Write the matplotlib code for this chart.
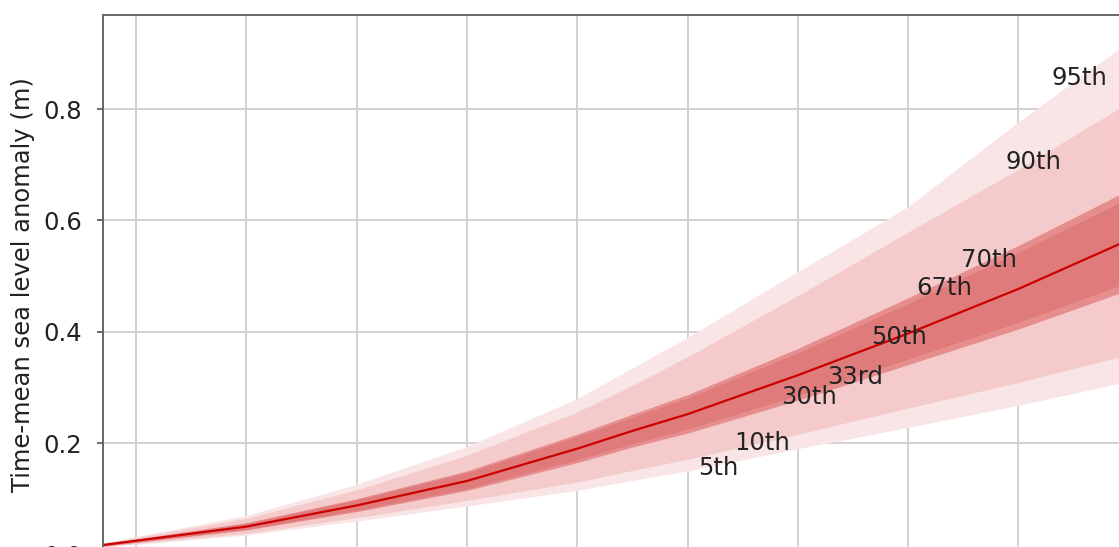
import matplotlib
matplotlib.use('Agg')
import matplotlib.pyplot as plt

# years and percentiles (m)
years = [2007, 2020, 2030, 2040, 2050, 2055, 2060, 2070, 2080, 2090, 2100]
p05 = [0.013, 0.035, 0.060, 0.087, 0.115, 0.133, 0.150, 0.190, 0.228, 0.268, 0.311]
p10 = [0.014, 0.038, 0.066, 0.097, 0.130, 0.151, 0.171, 0.216, 0.263, 0.309, 0.359]
p30 = [0.015, 0.044, 0.077, 0.115, 0.165, 0.193, 0.218, 0.277, 0.341, 0.405, 0.475]
p33 = [0.0155, 0.045, 0.079, 0.118, 0.170, 0.199, 0.225, 0.286, 0.351, 0.417, 0.489]
p50 = [0.017, 0.050, 0.088, 0.132, 0.190, 0.222, 0.252, 0.322, 0.397, 0.477, 0.565]
p67 = [0.018, 0.056, 0.098, 0.147, 0.212, 0.247, 0.281, 0.362, 0.451, 0.543, 0.640]
p70 = [0.019, 0.057, 0.100, 0.150, 0.216, 0.252, 0.287, 0.370, 0.461, 0.555, 0.655]
p90 = [0.020, 0.065, 0.116, 0.178, 0.256, 0.304, 0.355, 0.465, 0.579, 0.692, 0.812]
p95 = [0.021, 0.070, 0.126, 0.194, 0.280, 0.335, 0.390, 0.508, 0.625, 0.777, 0.921]

# label texts and where they sit
lab_text = ['5th', '10th', '30th', '33rd', '50th', '67th', '70th', '90th', '95th']
lab_year = [2062.8, 2066.8, 2071.0, 2075.2, 2079.2, 2083.3, 2087.3, 2091.4, 2095.5]
lab_val = [0.155, 0.200, 0.283, 0.319, 0.390, 0.478, 0.529, 0.705, 0.856]

xticks = list(range(2010, 2101, 10))

fig = plt.figure(figsize=(11.19, 5.47), dpi=100)
# the reference is a crop: axes run past the bottom and right edges
ax = fig.add_axes([0.09205, -0.0136, 0.9167, 0.9862])

ax.fill_between(years, p05, p95, color='#f9e5e5', lw=0)
ax.fill_between(years, p10, p90, color='#f4caca', lw=0)
ax.fill_between(years, p30, p70, color='#e68e8e', lw=0)
ax.fill_between(years, p33, p67, color='#e07b7b', lw=0)
ax.plot(years, p50, color='#cc0000', lw=1.6)

for t, x, y in zip(lab_text, lab_year, lab_val):
    ax.text(x, y, t, fontsize=17.5, color='#222222', ha='center', va='center')

ax.set_xlim(2007, 2100)
ax.set_ylim(0, 0.969)
ax.set_xticks(xticks)
ax.set_xticklabels([str(y) for y in xticks])
ax.set_yticks([0.0, 0.2, 0.4, 0.6, 0.8])
ax.set_yticklabels(['0.0', '0.2', '0.4', '0.6', '0.8'])
ax.grid(True, color='#d2d2d2', lw=1.4)
ax.set_axisbelow(True)
ax.tick_params(axis='y', labelsize=17.5, length=4, width=1.2, color='#555555', pad=11, labelcolor='#222222')
ax.tick_params(axis='x', labelsize=17.5, length=4, color='#555555', pad=11, labelcolor='#222222')
for s in ax.spines.values():
    s.set_color('#666666')
    s.set_linewidth(1.4)
ax.set_ylabel('Time-mean sea level anomaly (m)', fontsize=17.5, color='#222222', labelpad=6)

fig.savefig('out.png', dpi=100)
